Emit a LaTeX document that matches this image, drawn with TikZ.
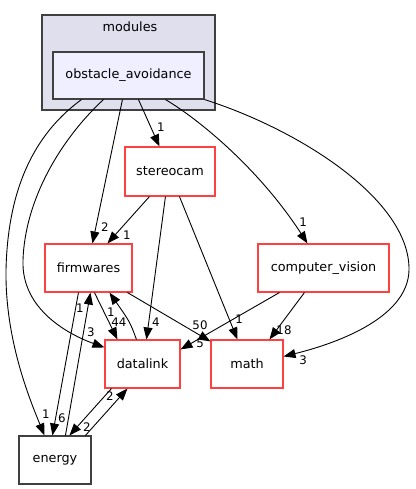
\documentclass[tikz,border=0pt]{standalone}
\usepackage{fontspec}
\setmainfont{DejaVu Sans}
\usetikzlibrary{arrows.meta}
\definecolor{clusterfill}{HTML}{DFDFEE}
\definecolor{innerfill}{HTML}{EFEFFF}
\definecolor{boxgray}{HTML}{404040}
\definecolor{boxred}{HTML}{FF4040}
\begin{document}
\begin{tikzpicture}[x=1pt,y=-1pt,
  box/.style={draw=boxred,line width=1.1pt,fill=white,minimum height=48pt,inner sep=0pt,
    font=\fontsize{12.8}{15}\selectfont},
  graybox/.style={box,draw=boxgray},
  arr/.style={-{Triangle[length=12pt,width=9pt]},line width=0.9pt},
  lab/.style={font=\fontsize{11.8}{13}\selectfont,inner sep=0pt}]
\useasboundingbox (0,0) rectangle (415,489);
% cluster
\node[draw=boxgray,fill=clusterfill,line width=1.1pt,minimum width=173pt,minimum height=95pt,inner sep=0pt] (modules) at (128.5,62.5) {};
\node[font=\fontsize{12.8}{15}\selectfont,inner sep=0pt] (modlab) at (130,27) {modules};
% nodes
\node[graybox,fill=innerfill,minimum width=151pt,minimum height=47pt] (oa) at (128.5,75.5) {obstacle\_avoidance};
\node[box,minimum width=90pt,minimum height=49pt] (st) at (170,171.5) {stereocam};
\node[box,minimum width=87pt] (fw) at (88.5,268) {firmwares};
\node[box,minimum width=131pt] (cv) at (323.5,268) {computer\_vision};
\node[box,minimum width=75pt] (dl) at (142.5,364) {datalink};
\node[box,minimum width=72pt] (ma) at (247,364) {math};
\node[graybox,minimum width=72pt] (en) at (55,460) {energy};
% edges from obstacle_avoidance
\draw[arr] ([xshift=86pt]oa.south west) -- ([xshift=35pt]st.north west);
\node[lab] (l1) at (161,127) {1};
\draw[arr] ([xshift=70pt]oa.south west) -- ([xshift=48pt]fw.north west);
\node[lab] (l2) at (105,227) {2};
\draw[arr] ([xshift=51pt]oa.south west) .. controls (60,140) and (25,200) .. (23,260)
  .. controls (21,310) and (70,335) .. ([yshift=-8pt]dl.north west);
\node[lab] (l3) at (91,332) {3};
\draw[arr] ([xshift=29pt]oa.south west) .. controls (40,130) and (8,180) .. (6,270)
  .. controls (5,340) and (30,400) .. ([xshift=26pt]en.north west);
\node[lab] (l4) at (46,414) {1};
\draw[arr] ([xshift=113pt]oa.south west) .. controls (200,120) and (260,170) .. ([xshift=50pt]cv.north west);
\node[lab] (l5) at (303,222) {1};
\draw[arr] (oa.south east) .. controls (300,130) and (410,200) .. (409,270)
  .. controls (408,320) and (330,345) .. ([yshift=-17pt]ma.north east);
\node[lab] (l6) at (303,360) {3};
% stereocam edges
\draw[arr] ([xshift=25pt]st.south west) -- ([xshift=63pt]fw.north west);
\node[lab] (l7) at (127,235) {1};
\draw[arr] ([xshift=41pt]st.south west) -- ([xshift=42pt]dl.north west);
\node[lab] (l8) at (156,322) {4};
\draw[arr] ([xshift=55pt]st.south west) -- ([xshift=27pt]ma.north west);
\node[lab] (l9) at (239,319) {1};
% computer_vision edges
\draw[arr] ([xshift=22pt]cv.south west) -- ([yshift=-10pt]dl.north east);
\node[lab] (l10) at (200,343) {5};
\draw[arr] ([xshift=47pt]cv.south west) -- ([xshift=59pt]ma.north west);
\node[lab] (l11) at (284,330) {18};
% firmwares edges
\draw[arr] ([xshift=50pt]fw.south west) -- ([xshift=13pt]dl.north west);
\node[lab] (l12) at (119,322) {44};
\draw[arr] ([xshift=83pt]fw.south west) -- ([yshift=-2pt]ma.north west);
\node[lab] (l13) at (200,325) {50};
\draw[arr] ([xshift=34pt]fw.south west) -- ([xshift=34pt]en.north west);
\node[lab] (l14) at (62,418) {6};
% datalink edges
\draw[arr] ([xshift=32pt]dl.north west) .. controls (130,322) .. ([xshift=65pt]fw.south west);
\node[lab] (l15) at (111,312) {1};
\draw[arr] ([xshift=7pt]dl.south west) -- ([xshift=51pt]en.north west);
\node[lab] (l16) at (87,427) {2};
% energy edges
\draw[arr] ([xshift=47pt]en.north west) -- ([xshift=46pt]fw.south west);
\node[lab] (l17) at (80,308) {1};
\draw[arr] ([xshift=67pt]en.north west) -- ([xshift=23pt]dl.south west);
\node[lab] (l18) at (110,396) {2};
\end{tikzpicture}
\end{document}
